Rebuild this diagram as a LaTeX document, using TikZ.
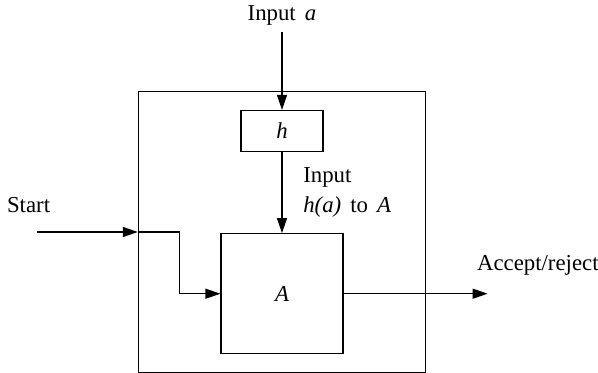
\documentclass[tikz,border=0pt]{standalone}
\usepackage{fontspec}
\setmainfont{Liberation Serif}
\usetikzlibrary{arrows.meta,positioning,fit,calc}
\tikzset{
  blk/.style  = {draw, line width=0.6pt, inner sep=0pt},
  frame/.style = {draw, line width=0.6pt},
  flow/.style = {-{Triangle[length=7.5pt,width=5pt]}, line width=0.6pt},
  lbl/.style  = {font=\fontsize{11.4}{15}\selectfont, align=left},
}
\begin{document}
\begin{tikzpicture}[x=0.5pt,y=-0.5pt]
  \useasboundingbox (0,0) rectangle (598,373);
  % hash and the machine
  \node[blk, minimum width=41pt, minimum height=20.5pt, lbl] (h) at (282,131)
    {\textit{h}};
  \node[blk, minimum width=61pt, minimum height=60pt, lbl, below=40.5pt of h] (A)
    {\textit{A}};
  \node[frame, fit=(h)(A), inner xsep=41pt, inner ysep=9pt] (box) {};
  % labels
  \node[lbl] (ina) at (282,15) {Input\hspace{0.4em}\textit{a}};
  \node[lbl, anchor=west] (start) at (0,205) {Start};
  \node[lbl, anchor=west] (acc) at (470,265) {Accept/reject};
  \coordinate (st) at (37,232);
  \coordinate (kink) at ($(box.west|-st)!0.5!(A.west|-st)$);
  \coordinate (out) at ($(A.east)+(144,0)$);
  % flows
  \draw[flow] (ina) -- (h);
  \draw[flow] (h) -- node[lbl, right=7pt]
    {Input\\ \textit{h(a)}\hspace{0.4em}to\hspace{0.4em}\textit{A}} (A);
  \draw[flow] (st) -- (st -| box.west);
  \draw[flow] (st -| box.west) -- (kink) |- (A.west);
  \draw[flow] (A.east) -- (out);
\end{tikzpicture}
\end{document}
